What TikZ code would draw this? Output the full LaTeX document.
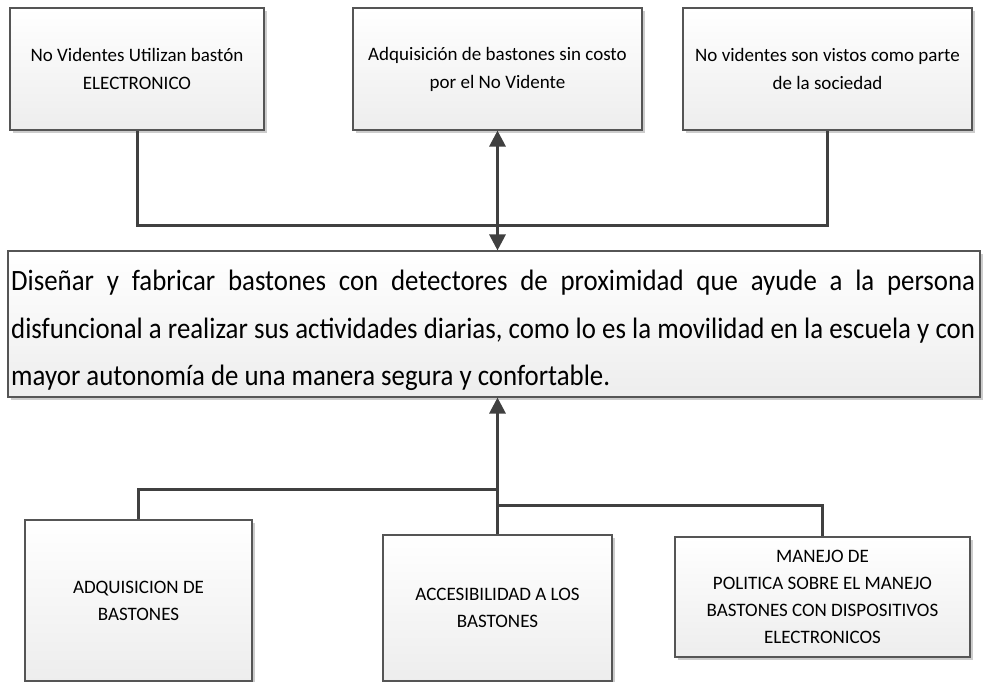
\documentclass[tikz,border=0pt]{standalone}
\usepackage{fontspec}
\setmainfont{Carlito}
\newfontfamily\condfont[FakeStretch=0.91]{Carlito}
\usetikzlibrary{arrows.meta,shadows}
\definecolor{ln}{HTML}{404040}
\definecolor{bd}{HTML}{555555}
\begin{document}
\begin{tikzpicture}[x=1pt,y=-1pt,
  box/.style={draw=bd,line width=1.1pt,top color=white,bottom color=black!7,
    drop shadow={shadow xshift=3pt,shadow yshift=-3pt,fill=black!20,opacity=1},
    align=center,inner sep=0pt},
  topbox/.style={box,font=\fontsize{19}{28}\selectfont,minimum height=122pt},
  botbox/.style={box,font=\fontsize{19}{27}\selectfont},
  conn/.style={draw=ln,line width=3pt},
  hd/.tip={Triangle[length=16pt,width=16pt]}]
\useasboundingbox (0,0) rectangle (988,682);
\node[topbox,minimum width=254pt] (n1) at (137,69) {No Videntes Utilizan bastón\\ELECTRONICO};
\node[topbox,minimum width=289pt] (n2) at (497.5,69) {Adquisición de bastones sin costo\\por el No Vidente};
\node[topbox,minimum width=289pt] (n3) at (827.5,69) {No videntes son vistos como parte\\de la sociedad};
\node[box,minimum width=972pt,minimum height=146pt] (main) at (494,324) {};
\node[anchor=north west,inner sep=0pt,text width=964pt,align=justify,
  font=\condfont\fontsize{29.5}{47.5}\selectfont] (maintxt) at (11,270)
  {Diseñar y fabricar bastones con detectores de proximidad que ayude a la persona\linebreak
   disfuncional a realizar sus actividades diarias, como lo es la movilidad en la escuela y con\linebreak
   mayor autonomía de una manera segura y confortable.};
\node[botbox,minimum width=227pt,minimum height=161pt] (b1) at (138.5,600.5) {ADQUISICION DE\\BASTONES};
\node[botbox,minimum width=229pt,minimum height=146pt] (b2) at (497.5,608) {ACCESIBILIDAD A LOS\\BASTONES};
\node[botbox,minimum width=295pt,minimum height=120pt] (b3) at (822.5,597) {MANEJO DE\\POLITICA SOBRE EL MANEJO\\BASTONES CON DISPOSITIVOS\\ELECTRONICOS};
\coordinate (j1) at (497.5,225);
\coordinate (j2) at (497.5,489);
\coordinate (j3) at (497.5,505);
\draw[conn] (n1.south) |- (j1) -| (n3.south);
\draw[conn,hd-hd] (n2.south) -- (n2.south |- main.north);
\draw[conn,-hd] (b2.north) -- (b2.north |- main.south);
\draw[conn] (b1.north) |- (j2);
\draw[conn] (b3.north) |- (j3);
\end{tikzpicture}
\end{document}
